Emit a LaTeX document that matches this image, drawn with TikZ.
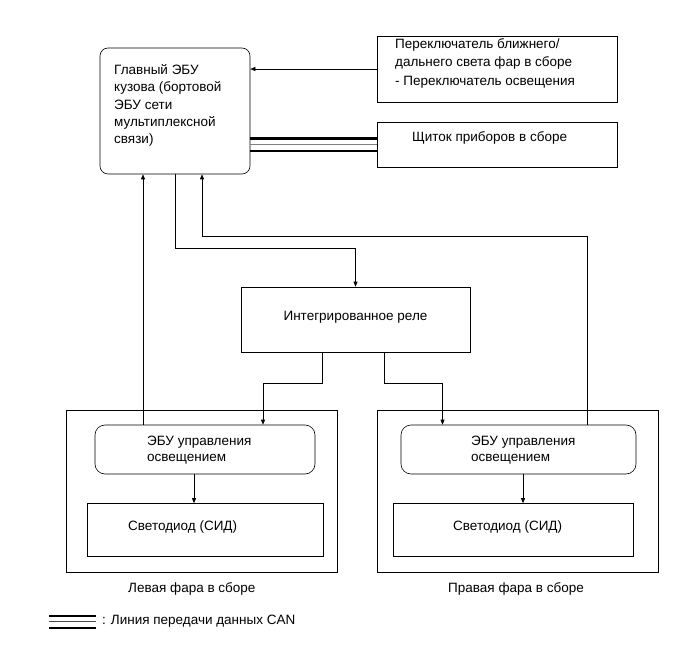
\documentclass[tikz,border=0pt]{standalone}
\usepackage{fontspec}
\setmainfont{Liberation Sans}
\usepackage{tikz}
\usetikzlibrary{positioning, arrows.meta, calc}

\begin{document}
\begin{tikzpicture}[
  x=1pt, y=-1pt,
  box/.style={draw, line width=0.6pt, inner sep=0pt, font=\fontsize{13.5}{16}\selectfont},
  rbox/.style={box, rounded corners=#1},
  txt/.style={anchor=base west, align=left, inner sep=0pt, font=\fontsize{13.5}{#1}\selectfont},
  txt/.default=16,
  arr/.style={-{Triangle[length=5pt, width=4pt]}, line width=0.6pt},
  can/.style={line width=#1}
]
\useasboundingbox (0,0) rectangle (691,660);

% ── Body ECU ──
\node[rbox=8pt, minimum width=150, minimum height=126] (bcm) at (175,111) {};
% (base = last line)
\node[txt=17.2] (bcm-t) at (114,143.5) {Главный ЭБУ\\кузова (бортовой\\ЭБУ сети\\мультиплексной\\связи)};

% ── Switch and meter ──
\node[box, minimum width=240, minimum height=66] (sw) at (497,69) {};
\node[txt=17.5] (sw-t) at (395,86) {Переключатель ближнего/\\дальнего света фар в сборе\\[2pt]- Переключатель освещения};
\node[box, minimum width=240, minimum height=45] (meter) at (497,144.5) {};
\node[txt] (meter-t) at (412,142) {Щиток приборов в сборе};

% ── Relay ──
\node[box, minimum width=229, minimum height=65, text depth=8pt] (relay) at (355.5,319.5) {Интегрированное реле};

% ── Left headlamp ──
\node[box, minimum width=271, minimum height=162] (lhl) at (201.5,491) {};
\node[rbox=10pt, minimum width=220, minimum height=49] (lecu) at (205,449.5) {};
\node[txt=16] (lecu-t) at (147,461) {ЭБУ управления\\освещением};
\node[box, minimum width=236, minimum height=53] (lled) at (205,530) {};
\node[txt] (lled-t) at (128,530.5) {Светодиод (СИД)};
\node[txt] (lhl-t) at (128,592.5) {Левая фара в сборе};

% ── Right headlamp ──
\node[box, minimum width=281, minimum height=162] (rhl) at (517.5,491) {};
\node[rbox=10pt, minimum width=235, minimum height=49] (recu) at (518.5,449.5) {};
\node[txt=16] (recu-t) at (471,461) {ЭБУ управления\\освещением};
\node[box, minimum width=240, minimum height=53] (rled) at (513,530) {};
\node[txt] (rled-t) at (453,530.5) {Светодиод (СИД)};
\node[txt] (rhl-t) at (448,592.5) {Правая фара в сборе};

% ── Legend ──
\node[txt] (canleg) at (102,624) {: Линия передачи данных CAN};
\coordinate (canl) at (49,621.5);

% ═══ ARROWS ═══
% Switch → Body ECU
\draw[arr] (sw.west) -- (sw.west -| bcm.east);

% CAN Body ECU ↔ meter
\draw[can=2.6pt] ([yshift=6]meter.west) -- ([yshift=6]meter.west -| bcm.east);
\draw[can=1pt, gray] (meter.west) -- (meter.west -| bcm.east);
\draw[can=2.6pt] ([yshift=-6.5]meter.west) -- ([yshift=-6.5]meter.west -| bcm.east);

% Body ECU → relay
\draw[arr] (bcm.south) -- ++(0,74) -| (relay.north);

% Lamp ECUs → Body ECU
\draw[arr] ([xshift=-62]lecu.north) -- ([xshift=-32]bcm.south);
\draw[arr] ([xshift=68.5]recu.north) -- ++(0,-188) -| ([xshift=27]bcm.south);

% Relay → lamp ECUs
\draw[arr] ([xshift=-33]relay.south) -- ++(0,31) -| ([xshift=58]lecu.north);
\draw[arr] ([xshift=29]relay.south) -- ++(0,31) -| ([xshift=-76]recu.north);

% Lamp ECUs → LEDs
\draw[arr] ([xshift=-11]lecu.south) -- ([xshift=-11]lecu.south |- lled.north);
\draw[arr] ([xshift=4.5]recu.south) -- ([xshift=4.5]recu.south |- rled.north);

% Legend line
\draw[can=2.6pt] ([yshift=5.5]canl) -- ([xshift=-6,yshift=5.5]canl -| canleg.west);
\draw[can=1pt, gray!60!black] (canl) -- ([xshift=-6]canl -| canleg.west);
\draw[can=2.6pt] ([yshift=-6.5]canl) -- ([xshift=-6,yshift=-6.5]canl -| canleg.west);

\end{tikzpicture}
\end{document}
